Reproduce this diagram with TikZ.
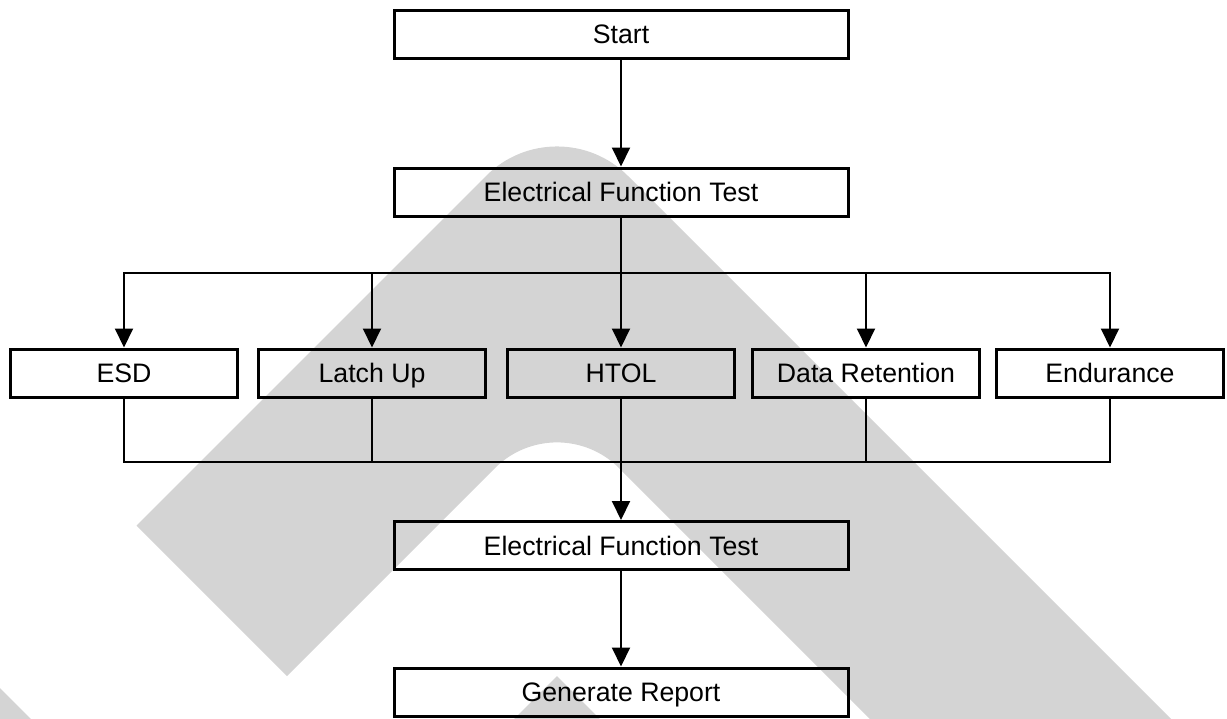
\documentclass[tikz,border=0pt]{standalone}
\usepackage{fontspec}
\setmainfont{Liberation Sans}
\usetikzlibrary{arrows.meta}
\definecolor{wm}{RGB}{212,212,212}
\begin{document}
\begin{tikzpicture}[x=1pt,y=-1pt,
  box/.style={draw, line width=3pt, rectangle, inner sep=0pt, minimum height=48pt,
    text height=19pt, text depth=0pt,
    font=\fontsize{26.7}{32}\selectfont},
  wide/.style={box, minimum width=454pt},
  small/.style={box, minimum width=227pt},
  conn/.style={line width=2pt, line cap=rect},
  arr/.style={line width=2pt, -{Triangle[width=18pt,length=19pt]}}]
\useasboundingbox (0,0) rectangle (1227,718);
% watermark
\begin{scope}
\clip (0,0) rectangle (1227,718);
\fill[wm] (136.5,525.5) -- (486.3,175.7) .. controls (525.3,136.7) and (588.7,136.7) .. (627.7,175.7)
  -- (1192,740) -- (891,740) -- (619.2,468.2) .. controls (584.8,433.8) and (529.2,433.8) .. (494.8,468.2)
  -- (287,676) -- cycle;
\fill[wm] (493,740) -- (557,676) -- (621,740) -- cycle;
\fill[wm] (0,688) -- (52,740) -- (0,740) -- cycle;
\end{scope}
% nodes
\node[wide] (start) at (621,34) {Start};
\node[wide] (eft1) at (621,192) {Electrical Function Test};
\node[small] (esd) at (124,373) {ESD};
\node[small] (lu) at (372,373) {Latch Up};
\node[small] (htol) at (621,373) {HTOL};
\node[small] (dr) at (866,373) {Data Retention};
\node[small] (endu) at (1110,373) {Endurance};
\node[wide] (eft2) at (621,545.5) {Electrical Function Test};
\node[wide] (rep) at (621,692) {Generate Report};
\coordinate (split) at (621,273);
\coordinate (join) at (621,462);
% connectors
\draw[arr] (start.south) -- (eft1.north);
\draw[conn] (eft1.south) -- (split);
\draw[conn] (esd.north |- split) -- (endu.north |- split);
\foreach \n in {esd,lu,htol,dr,endu} {
  \draw[arr] (\n.north |- split) -- (\n.north);
  \draw[conn] (\n.south) -- (\n.south |- join);
}
\draw[conn] (esd.south |- join) -- (endu.south |- join);
\draw[arr] (join) -- (eft2.north);
\draw[arr] (eft2.south) -- (rep.north);
\end{tikzpicture}
\end{document}
